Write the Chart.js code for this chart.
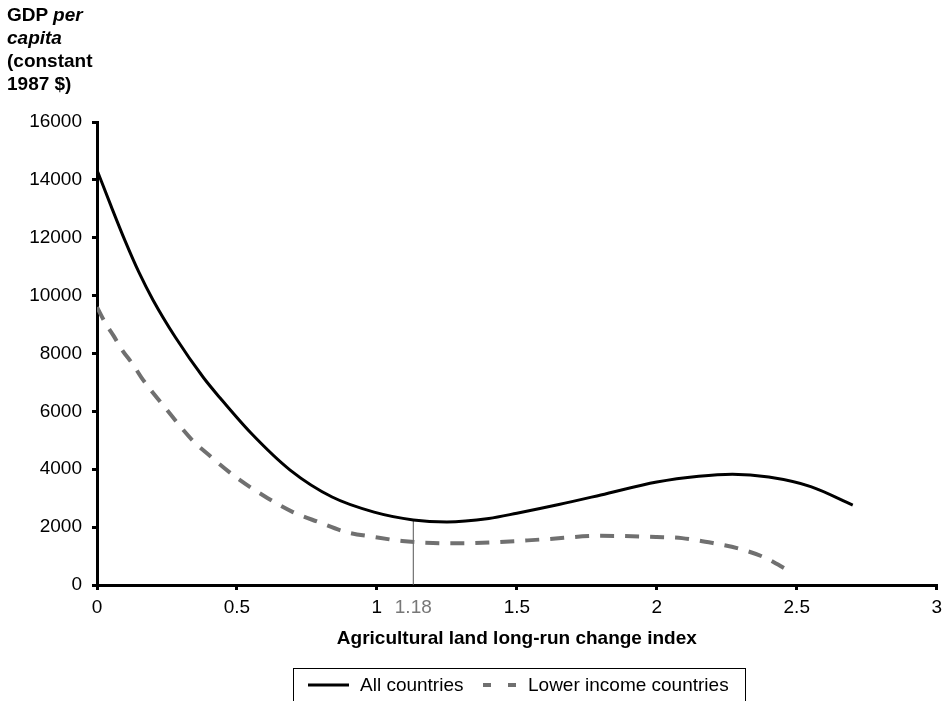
<!DOCTYPE html>
<html>
<head>
<meta charset="utf-8">
<script src="https://cdn.jsdelivr.net/npm/chart.js@4.4.0/dist/chart.umd.min.js"></script>
<style>
  html, body { margin: 0; padding: 0; background: #fff; }
  body { width: 948px; height: 701px; position: relative; overflow: hidden;
         font-family: "Liberation Sans", Arial, sans-serif; }
  #chartWrap { position: absolute; left: 0; top: 0; width: 948px; height: 701px; }
  #yTitle { position: absolute; left: 7px; top: 3px; font-size: 19px; font-weight: bold;
            line-height: 23px; color: #000; }
  #legend { position: absolute; left: 293px; top: 668px; width: 453px; height: 34px;
            border: 1px solid #000; box-sizing: border-box; font-size: 19px; color: #000; }
  #legend .item { position: absolute; top: 5px; line-height: 22px; }
  #legend svg { position: absolute; top: 0; }
</style>
</head>
<body>
<div id="chartWrap"><canvas id="gdpChart" width="948" height="701"></canvas></div>
<div id="yTitle">GDP <i>per</i><br><i>capita</i><br>(constant<br>1987 $)</div>
<div id="legend">
  <svg width="453" height="32" style="left:0">
    <line x1="14" y1="16" x2="55" y2="16" stroke="#000" stroke-width="3"/>
    <line x1="189" y1="16" x2="197" y2="16" stroke="#707070" stroke-width="4"/>
    <line x1="214" y1="16" x2="222" y2="16" stroke="#707070" stroke-width="4"/>
  </svg>
  <span class="item" style="left:66px">All countries</span>
  <span class="item" style="left:234px">Lower income countries</span>
</div>
<script>
// Datos
const allX = [0, 0.05, 0.1, 0.15, 0.2, 0.28, 0.38, 0.44, 0.55, 0.69, 0.84, 0.99, 1.13, 1.25, 1.4, 1.5, 1.65, 1.8, 2.0, 2.15, 2.27, 2.4, 2.55, 2.7];
const allY = [14340, 13100, 11900, 10800, 9850, 8560, 7170, 6460, 5250, 3970, 3040, 2520, 2250, 2180, 2300, 2480, 2780, 3110, 3560, 3760, 3830, 3730, 3400, 2760];

const lowX = [0, 0.03, 0.06, 0.09, 0.13, 0.16, 0.25, 0.34, 0.4, 0.5, 0.61, 0.7, 0.79, 0.89, 0.99, 1.09, 1.2, 1.3, 1.41, 1.6, 1.8, 2.0, 2.09, 2.2, 2.3, 2.39, 2.47];
const lowY = [9600, 9050, 8600, 8120, 7600, 7150, 6050, 5010, 4490, 3700, 3000, 2520, 2180, 1830, 1660, 1520, 1450, 1440, 1470, 1580, 1700, 1660, 1620, 1450, 1240, 930, 500];

const seriesNames = ['All countries', 'Lower income countries'];

// Linea vertical marcada con 1.18
const markLabel = '1.18';
const markX = 1.13;
const markTop = 2250;

const xTicks = [0, 0.5, 1, 1.5, 2, 2.5, 3];
const yTicks = [0, 2000, 4000, 6000, 8000, 10000, 12000, 14000, 16000];

function toPoints(xs, ys) {
    return xs.map((x, i) => ({ x: x, y: ys[i] }));
}

const fontBase = { family: '"Liberation Sans", Arial, sans-serif', size: 19 };

new Chart(document.getElementById('gdpChart'), {
    type: 'scatter',
    data: {
        datasets: [
            {
                label: seriesNames[0],
                data: toPoints(allX, allY),
                showLine: true,
                borderColor: '#000',
                borderWidth: 3,
                pointRadius: 0,
                cubicInterpolationMode: 'monotone'
            },
            {
                label: seriesNames[1],
                data: toPoints(lowX, lowY),
                showLine: true,
                borderColor: '#707070',
                borderWidth: 4,
                borderDash: [14, 11],
                pointRadius: 0,
                cubicInterpolationMode: 'monotone'
            },
            {
                label: 'mark',
                data: [{ x: markX, y: 0 }, { x: markX, y: markTop }],
                showLine: true,
                borderColor: '#555',
                borderWidth: 1,
                pointRadius: 0
            }
        ]
    },
    options: {
        responsive: false,
        animation: false,
        layout: { padding: { top: 122, right: 11, left: 0, bottom: 0 } },
        plugins: { legend: { display: false }, tooltip: { enabled: false } },
        scales: {
            x: {
                type: 'linear',
                min: 0,
                max: 3,
                afterFit: s => { s.height = 116; },
                afterBuildTicks: s => {
                    s.ticks = xTicks.concat([markX]).sort((a, b) => a - b).map(v => ({ value: v }));
                },
                border: { color: '#000', width: 3 },
                grid: {
                    drawOnChartArea: false,
                    tickLength: 5,
                    lineWidth: 3,
                    color: c => (c.tick && c.tick.value === markX) ? 'rgba(0,0,0,0)' : '#000'
                },
                ticks: {
                    autoSkip: false,
                    maxRotation: 0,
                    padding: 6,
                    font: fontBase,
                    color: c => (c.tick && c.tick.value === markX) ? '#777' : '#000',
                    callback: v => v === markX ? markLabel : String(v)
                },
                title: {
                    display: true,
                    text: 'Agricultural land long-run change index',
                    color: '#000',
                    font: { family: fontBase.family, size: 19, weight: 'bold' },
                    padding: { top: 0, bottom: 51 }
                }
            },
            y: {
                type: 'linear',
                min: 0,
                max: 16000,
                afterFit: s => { s.width = 97; },
                afterBuildTicks: s => { s.ticks = yTicks.map(v => ({ value: v })); },
                border: { color: '#000', width: 3 },
                grid: { drawOnChartArea: false, tickLength: 5, lineWidth: 3, color: '#000' },
                ticks: {
                    padding: 10,
                    font: fontBase,
                    color: '#000',
                    callback: v => String(v)
                }
            }
        }
    }
});
</script>
</body>
</html>
